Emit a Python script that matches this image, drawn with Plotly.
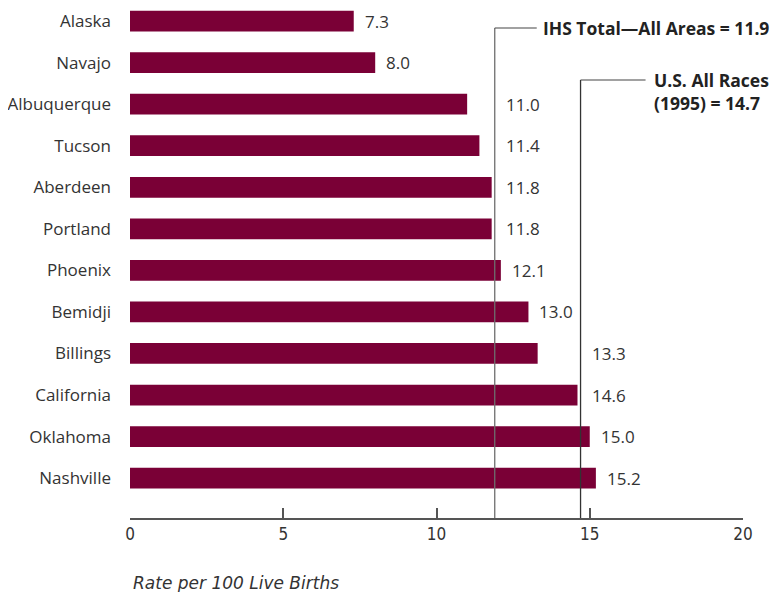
import plotly.graph_objects as go

categories = ["Alaska", "Navajo", "Albuquerque", "Tucson", "Aberdeen", "Portland",
              "Phoenix", "Bemidji", "Billings", "California", "Oklahoma", "Nashville"]
values = [7.3, 8.0, 11.0, 11.4, 11.8, 11.8, 12.1, 13.0, 13.3, 14.6, 15.0, 15.2]
ihs_total = 11.9
us_all_races = 14.7
x_ticks = [0, 5, 10, 15, 20]

BAR = "#7a0036"
TXT = "#333333"
FONT = "Open Sans"

# the page body has an 8px margin, so the figure is drawn 8px smaller
W, H = 772, 584
L, R, T, B = 122, 37, 0, 74
px_per_unit = (W - L - R) / 20.0
Y_TOP = -0.315
Y_BOT = 11.96

fig = go.Figure()
fig.add_trace(go.Bar(
    x=values, y=list(range(len(categories))), orientation="h",
    marker=dict(color=BAR, line=dict(width=0)), width=0.5,
    hoverinfo="x+y", showlegend=False,
))

ref_lines = [ihs_total, us_all_races]
annotations = []
for i, v in enumerate(values):
    end_px = v * px_per_unit
    span = (end_px, end_px + 9 + 36)
    crossing = [r for r in ref_lines if span[0] - 1 <= r * px_per_unit <= span[1]]
    if crossing:
        ax, shift = max(crossing), 9
    else:
        ax, shift = v, 9
    annotations.append(dict(
        x=ax, y=i, xref="x", yref="y", text=f"{v:.1f}", showarrow=False,
        xanchor="left", yanchor="middle", xshift=shift,
        font=dict(family=FONT, size=17, color=TXT),
    ))

ihs_y = 0.166
us_y = 1.418

annotations.append(dict(
    x=ihs_total, y=ihs_y, xref="x", yref="y", text="<b>IHS Total\u2014All Areas = 11.9</b>",
    showarrow=False, xanchor="left", yanchor="middle", xshift=46,
    font=dict(family=FONT, size=17.5, color="#222222"),
))
annotations.append(dict(
    x=us_all_races, y=us_y + 0.265, xref="x", yref="y",
    text="<b>U.S. All Races<br>(1995) = 14.7</b>", align="left",
    showarrow=False, xanchor="left", yanchor="middle", xshift=71,
    font=dict(family=FONT, size=17.5, color="#222222"),
))
annotations.append(dict(
    x=0, y=-(575 - (H - B)) / (H - B - T), xref="paper", yref="paper",
    text="<i>Rate per 100 Live Births</i>", showarrow=False,
    xanchor="left", yanchor="middle", xshift=1,
    font=dict(family="DejaVu Sans", size=17, color=TXT),
))

shapes = [
    dict(type="line", xref="x", yref="y", x0=ihs_total, x1=ihs_total, y0=ihs_y, y1=Y_BOT,
         line=dict(color="#6e6e6e", width=1.3)),
    dict(type="line", xref="x", yref="y", xsizemode="pixel", xanchor=ihs_total,
         x0=0, x1=42, y0=ihs_y, y1=ihs_y, line=dict(color="#444444", width=1.2)),
    dict(type="line", xref="x", yref="y", x0=us_all_races, x1=us_all_races, y0=us_y, y1=Y_BOT,
         line=dict(color="#333333", width=1.3)),
    dict(type="line", xref="x", yref="y", xsizemode="pixel", xanchor=us_all_races,
         x0=0, x1=65, y0=us_y, y1=us_y, line=dict(color="#444444", width=1.2)),
]

fig.update_layout(
    width=W, height=H, margin=dict(l=L, r=R, t=T, b=B, pad=0, autoexpand=False),
    paper_bgcolor="white", plot_bgcolor="white",
    annotations=annotations, shapes=shapes, bargap=0.5,
    xaxis=dict(range=[0, 20], tickvals=x_ticks, ticks="inside", ticklen=10,
               tickcolor="#555555", tickwidth=1.5, showline=True, linecolor="#555555",
               linewidth=1.5, showgrid=False, zeroline=False, automargin=False,
               tickfont=dict(family="DejaVu Sans Condensed, Roboto Condensed, Arial Narrow, sans-serif",
                             size=17, color=TXT)),
    yaxis=dict(range=[Y_BOT, Y_TOP], tickvals=list(range(len(categories))), ticktext=categories,
               showgrid=False, zeroline=False, showline=False, ticks="", ticklabelstandoff=18,
               automargin=False, ticklabeloverflow="allow",
               tickfont=dict(family=FONT, size=17, color=TXT)),
)

fig.write_html("out.html")
